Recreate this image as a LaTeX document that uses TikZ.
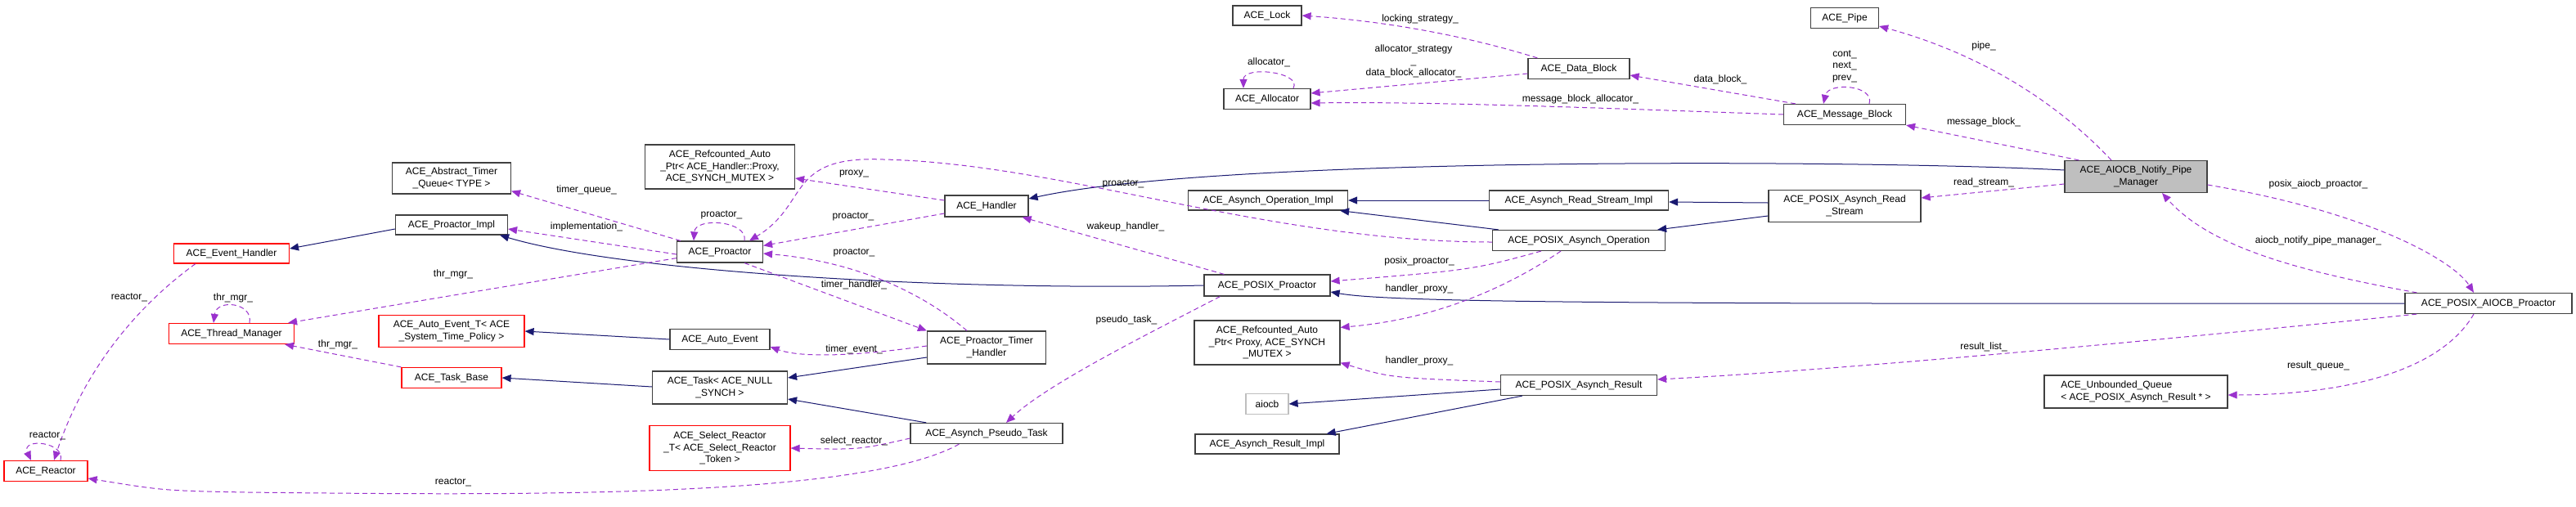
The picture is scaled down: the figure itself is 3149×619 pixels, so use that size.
\documentclass[tikz,border=0pt]{standalone}
\usepackage{fontspec}
\setmainfont{Liberation Sans}
\usetikzlibrary{arrows.meta,calc}
\definecolor{inhblue}{RGB}{25,25,112}
\definecolor{usepurple}{RGB}{154,50,205}
\tikzset{
  cls/.style={draw=black!75, line width=1.2pt, fill=white, inner sep=2pt, align=center, font=\fontsize{12}{14.5}\selectfont},
  redcls/.style={cls, draw=red},
  lbl/.style={inner sep=0pt, align=center, font=\fontsize{12}{14.5}\selectfont},
  inh/.style={draw=inhblue, line width=1pt, -{Triangle[length=11pt,width=9pt]}},
  use/.style={draw=usepurple, line width=1pt, dash pattern=on 6pt off 4pt, -{Triangle[length=11pt,width=9pt]}}
}
\begin{document}
\begin{tikzpicture}[x=1pt,y=-1pt]
\useasboundingbox (0,0) rectangle (3149,619);
% classes
\node[cls, minimum width=84, minimum height=24] (lock) at (1549,19) {ACE\_Lock};
\node[cls, minimum width=83, minimum height=25] (pipe) at (2255,22) {ACE\_Pipe};
\node[cls, minimum width=124, minimum height=25] (datab) at (1930,84) {ACE\_Data\_Block};
\node[cls, minimum width=106, minimum height=25] (alloc) at (1549,121) {ACE\_Allocator};
\node[cls, minimum width=149, minimum height=25] (msgb) at (2255,140) {ACE\_Message\_Block};
\node[cls, fill=black!25, minimum width=174, minimum height=39] (notify) at (2611,216) {ACE\_AIOCB\_Notify\_Pipe\\\_Manager};
\node[cls, minimum width=183, minimum height=54] (rcproxyh) at (880,204) {ACE\_Refcounted\_Auto\\\_Ptr< ACE\_Handler::Proxy,\\ ACE\_SYNCH\_MUTEX >};
\node[cls, minimum width=145, minimum height=38] (atq) at (552,218) {ACE\_Abstract\_Timer\\\_Queue< TYPE >};
\node[cls, minimum width=102, minimum height=26] (handler) at (1206,252) {ACE\_Handler};
\node[cls, minimum width=195, minimum height=24] (aoimpl) at (1550,245) {ACE\_Asynch\_Operation\_Impl};
\node[cls, minimum width=219, minimum height=24] (arsimpl) at (1930,245) {ACE\_Asynch\_Read\_Stream\_Impl};
\node[cls, minimum width=186, minimum height=39] (pars) at (2255,252) {ACE\_POSIX\_Asynch\_Read\\\_Stream};
\node[cls, minimum width=137, minimum height=24] (pimpl) at (552,275) {ACE\_Proactor\_Impl};
\node[cls, minimum width=105, minimum height=26] (proactor) at (880,308) {ACE\_Proactor};
\node[cls, minimum width=211, minimum height=25] (paop) at (1930,294) {ACE\_POSIX\_Asynch\_Operation};
\node[redcls, minimum width=141, minimum height=24] (eh) at (283,310) {ACE\_Event\_Handler};
\node[cls, minimum width=154, minimum height=26] (pproactor) at (1549,349) {ACE\_POSIX\_Proactor};
\node[cls, minimum width=204, minimum height=25] (aiocbpro) at (3042,371) {ACE\_POSIX\_AIOCB\_Proactor};
\node[cls, minimum width=178, minimum height=54] (rcproxy) at (1549,419) {ACE\_Refcounted\_Auto\\\_Ptr< Proxy, ACE\_SYNCH\\\_MUTEX >};
\node[redcls, minimum width=153, minimum height=25] (tm) at (283,408) {ACE\_Thread\_Manager};
\node[redcls, minimum width=178, minimum height=39] (aet) at (552,405) {ACE\_Auto\_Event\_T< ACE\\\_System\_Time\_Policy >};
\node[cls, minimum width=122, minimum height=25] (ae) at (880,415) {ACE\_Auto\_Event};
\node[cls, minimum width=145, minimum height=40] (pth) at (1206,425) {ACE\_Proactor\_Timer\\\_Handler};
\node[redcls, minimum width=122, minimum height=25] (taskb) at (552,462) {ACE\_Task\_Base};
\node[cls, minimum width=165, minimum height=40] (task) at (880,474) {ACE\_Task< ACE\_NULL\\\_SYNCH >};
\node[cls, minimum width=191, minimum height=25] (par) at (1930,471) {ACE\_POSIX\_Asynch\_Result};
\node[cls, align=left, minimum width=224, minimum height=40] (ubq) at (2611,479) {ACE\_Unbounded\_Queue\\< ACE\_POSIX\_Asynch\_Result * >};
\node[cls, draw=black!25, minimum width=52, minimum height=25] (aiocb) at (1549,494) {aiocb};
\node[redcls, minimum width=172, minimum height=55] (sel) at (880,548) {ACE\_Select\_Reactor\\\_T< ACE\_Select\_Reactor\\\_Token >};
\node[cls, minimum width=186, minimum height=25] (apt) at (1206,530) {ACE\_Asynch\_Pseudo\_Task};
\node[cls, minimum width=176, minimum height=24] (arimpl) at (1549,543) {ACE\_Asynch\_Result\_Impl};
\node[redcls, minimum width=102, minimum height=25] (reactor) at (56,576) {ACE\_Reactor};
% inheritance
\draw[inh] ($(pimpl.west)+(0,5)$) -- ($(eh.east)+(0,-6)$);
\draw[inh] (pproactor.west) .. controls (1150,356) and (760,332) .. ($(pimpl.south east)+(-10,0)$);
\draw[inh] (ae.west) -- (aet.east);
\draw[inh] ($(task.west)+(0,-1)$) -- (taskb.east);
\draw[inh] ($(pth.west)+(0,12)$) -- ($(task.east)+(0,-12)$);
\draw[inh] ($(apt.north west)+(20,0)$) -- ($(task.east)+(0,14)$);
\draw[inh] ($(notify.west)+(0,-8)$) .. controls (2300,196) and (1500,190) .. ($(handler.east)+(0,-9)$);
\draw[inh] (arsimpl.west) -- (aoimpl.east);
\draw[inh] ($(paop.north west)+(8,0)$) -- ($(aoimpl.south east)+(-10,0)$);
\draw[inh] ($(pars.west)+(0,-4)$) -- ($(arsimpl.east)+(0,2)$);
\draw[inh] ($(pars.west)+(0,12)$) -- ($(paop.north east)+(-10,0)$);
\draw[inh] (aiocbpro.west) .. controls (2000,372) and (1700,370) .. ($(pproactor.east)+(0,8)$);
\draw[inh] ($(par.west)+(0,5)$) -- (aiocb.east);
\draw[inh] ($(par.south west)+(27,0)$) -- ($(arimpl.north east)+(-16,0)$);
% usage
\draw[use] ($(datab.north west)+(12,0)$) .. controls (1780,40) and (1680,25) .. (lock.east);
\draw[use] ($(datab.west)+(0,6)$) -- ($(alloc.east)+(0,-7)$);
\draw[use] ($(alloc.north)+(32,0)$) .. controls (1592,88) and (1520,80) .. ($(alloc.north)+(-29,0)$);
\draw[use] ($(msgb.north west)+(15,0)$) -- ($(datab.east)+(0,8)$);
\draw[use] (msgb.west) .. controls (1950,132) and (1750,124) .. ($(alloc.east)+(0,5)$);
\draw[use] ($(msgb.north)+(30,0)$) .. controls (2292,104) and (2235,100) .. ($(msgb.north)+(-26,0)$);
\draw[use] ($(notify.north)+(-30,0)$) .. controls (2500,110) and (2400,60) .. ($(pipe.east)+(0,10)$);
\draw[use] ($(notify.north west)+(18,0)$) -- (msgb.south east);
\draw[use] ($(notify.west)+(0,9)$) -- ($(pars.east)+(0,-10)$);
\draw[use] ($(notify.east)+(0,10)$) .. controls (2900,260) and (3000,320) .. ($(aiocbpro.north)+(-18,0)$);
\draw[use] ($(aiocbpro.north west)+(15,0)$) .. controls (2800,330) and (2700,300) .. ($(notify.south)+(32,0)$);
\draw[use] ($(aiocbpro.south west)+(15,0)$) .. controls (2500,430) and (2200,455) .. ($(par.east)+(0,-7)$);
\draw[use] ($(aiocbpro.south)+(-18,0)$) .. controls (2980,460) and (2850,483) .. ($(ubq.east)+(0,4)$);
\draw[use] ($(handler.west)+(0,-7)$) -- ($(rcproxyh.east)+(0,14)$);
\draw[use] ($(handler.west)+(0,9)$) -- ($(proactor.north east)+(0,6)$);
\draw[use] ($(proactor.north)+(30,0)$) .. controls (915,270) and (850,265) .. ($(proactor.north)+(-32,0)$);
\draw[use] ($(paop.west)+(0,2)$) .. controls (1550,296) and (1300,200) .. (1080,195) .. controls (960,190) and (990,250) .. ($(proactor.north)+(36,0)$);
\draw[use] ($(pproactor.north west)+(25,0)$) -- ($(handler.south east)+(-8,0)$);
\draw[use] ($(proactor.north west)+(5,0)$) -- ($(atq.south east)+(0,-4)$);
\draw[use] ($(proactor.west)+(0,3)$) -- ($(pimpl.east)+(0,5)$);
\draw[use] ($(proactor.south west)+(0,-6)$) .. controls (650,345) .. ($(tm.north east)+(-8,0)$);
\draw[use] ($(tm.north)+(22,0)$) .. controls (310,370) and (265,365) .. ($(tm.north)+(-22,0)$);
\draw[use] (taskb.north west) -- ($(tm.south east)+(-12,0)$);
\draw[use] ($(eh.south west)+(27,0)$) .. controls (160,380) and (100,460) .. ($(reactor.north)+(10,0)$);
\draw[use] ($(reactor.north)+(18,0)$) .. controls (80,540) and (25,535) .. ($(reactor.north)+(-18,0)$);
\draw[use] ($(apt.south west)+(60,0)$) .. controls (1050,612) and (600,605) .. (300,602) .. controls (200,600) .. ($(reactor.east)+(0,9)$);
\draw[use] ($(apt.west)+(0,6)$) .. controls (1050,550) .. (sel.east);
\draw[use] ($(pproactor.south west)+(20,0)$) .. controls (1400,410) and (1280,470) .. ($(apt.north)+(24,0)$);
\draw[use] ($(proactor.south)+(30,0)$) -- ($(pth.north west)+(0,0)$);
\draw[use] ($(pth.north)+(-24,0)$) .. controls (1130,360) and (1050,320) .. ($(proactor.east)+(0,2)$);
\draw[use] ($(pth.west)+(0,-2)$) .. controls (1050,435) and (980,438) .. ($(ae.south east)+(0,-4)$);
\draw[use] ($(paop.south west)+(60,0)$) .. controls (1800,330) .. ($(pproactor.east)+(0,-5)$);
\draw[use] ($(paop.south)+(-22,0)$) .. controls (1800,380) and (1700,395) .. ($(rcproxy.north east)+(0,9)$);
\draw[use] ($(par.west)+(0,-4)$) .. controls (1700,462) .. ($(rcproxy.south east)+(0,-3)$);
% labels
\node[lbl] (l1) at (1736,23) {locking\_strategy\_};
\node[lbl] (l2) at (1728,75) {allocator\_strategy\\\_\\data\_block\_allocator\_};
\node[lbl] (l3) at (1551,76) {allocator\_};
\node[lbl] (l4) at (2103,97) {data\_block\_};
\node[lbl] (l5) at (1932,121) {message\_block\_allocator\_};
\node[lbl] (l6) at (2255,81) {cont\_\\next\_\\prev\_};
\node[lbl] (l7) at (2425,56) {pipe\_};
\node[lbl] (l8) at (2425,149) {message\_block\_};
\node[lbl] (l9) at (2425,223) {read\_stream\_};
\node[lbl] (l10) at (2834,225) {posix\_aiocb\_proactor\_};
\node[lbl] (l11) at (2834,294) {aiocb\_notify\_pipe\_manager\_};
\node[lbl] (l12) at (2425,424) {result\_list\_};
\node[lbl] (l13) at (2834,447) {result\_queue\_};
\node[lbl] (l14) at (1044,213) {proxy\_};
\node[lbl] (l15) at (882,263) {proactor\_};
\node[lbl] (l16) at (1043,265) {proactor\_};
\node[lbl] (l17) at (1373,225) {proactor\_};
\node[lbl] (l18) at (1376,277) {wakeup\_handler\_};
\node[lbl] (l19) at (717,232) {timer\_queue\_};
\node[lbl] (l20) at (717,277) {implementation\_};
\node[lbl] (l21) at (554,335) {thr\_mgr\_};
\node[lbl] (l22) at (285,364) {thr\_mgr\_};
\node[lbl] (l23) at (413,421) {thr\_mgr\_};
\node[lbl] (l24) at (158,364) {reactor\_};
\node[lbl] (l25) at (58,533) {reactor\_};
\node[lbl] (l26) at (554,590) {reactor\_};
\node[lbl] (l27) at (1044,309) {proactor\_};
\node[lbl] (l28) at (1044,348) {timer\_handler\_};
\node[lbl] (l29) at (1044,427) {timer\_event\_};
\node[lbl] (l30) at (1377,391) {pseudo\_task\_};
\node[lbl] (l31) at (1044,539) {select\_reactor\_};
\node[lbl] (l32) at (1735,319) {posix\_proactor\_};
\node[lbl] (l33) at (1735,353) {handler\_proxy\_};
\node[lbl] (l34) at (1735,441) {handler\_proxy\_};
\end{tikzpicture}
\end{document}
